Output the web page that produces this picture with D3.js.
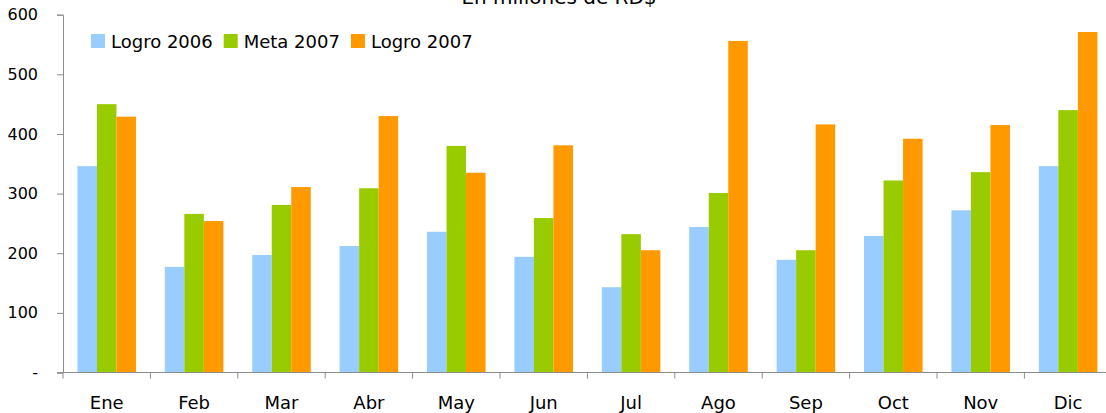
<!DOCTYPE html>
<html>
<head>
<meta charset="utf-8">
<script src="https://cdn.jsdelivr.net/npm/d3@7"></script>
<style>
  html, body { margin: 0; padding: 0; background: #fff; }
  svg { display: block; font-family: "DejaVu Sans", sans-serif; }
</style>
</head>
<body>
<svg id="chart" width="1106" height="413"></svg>
<script>
const months = ["Ene","Feb","Mar","Abr","May","Jun","Jul","Ago","Sep","Oct","Nov","Dic"];
const seriesNames = ["Logro 2006","Meta 2007","Logro 2007"];
const logro2006 = [346, 177, 197, 212, 236, 194, 143, 244, 189, 229, 272, 346];
const meta2007  = [450, 266, 281, 309, 380, 259, 232, 301, 205, 322, 336, 440];
const logro2007 = [429, 254, 311, 430, 335, 381, 205, 556, 416, 392, 415, 571];
const yTicks = [0, 100, 200, 300, 400, 500, 600];
const yTickLabels = ["-", "100", "200", "300", "400", "500", "600"];
const colors = ["#99CCFF", "#99CC00", "#FF9900"];
const title = "En millones de RD$";

const series = [logro2006, meta2007, logro2007];
const svg = d3.select("#chart");

const x0 = d3.scaleBand().domain(months).range([63, 1111.8]).paddingInner(0.33).paddingOuter(0.165);
const x1 = d3.scaleBand().domain(d3.range(series.length)).range([0, x0.bandwidth()]);
const y = d3.scaleLinear().domain([0, 600]).range([372.5, 14.7]);

// bars
const groups = svg.append("g").selectAll("g")
  .data(months).join("g")
  .attr("transform", d => `translate(${x0(d)},0)`);
groups.selectAll("rect")
  .data((m, i) => series.map((s, k) => ({k, v: s[i]})))
  .join("rect")
  .attr("x", d => x1(d.k))
  .attr("width", x1.bandwidth())
  .attr("y", d => y(d.v))
  .attr("height", d => y(0) - y(d.v))
  .attr("fill", d => colors[d.k]);

const axisColor = "#8c8c8c";

// y axis
const yAxis = svg.append("g").attr("transform", "translate(63,0)")
  .call(d3.axisLeft(y).tickValues(yTicks).tickFormat((d, i) => yTickLabels[i]).tickSizeOuter(0).tickSize(6).tickPadding(19));
yAxis.select(".domain").attr("stroke", axisColor);
yAxis.selectAll(".tick line").attr("stroke", axisColor);
yAxis.selectAll(".tick text").attr("fill", "#000").style("font-size", "16px").style("font-family", "DejaVu Sans, sans-serif");

// x axis
const xAxisG = svg.append("g").attr("transform", `translate(0,${y(0)})`);
xAxisG.append("line").attr("x1", 57).attr("x2", 1106).attr("y1", 0).attr("y2", 0).attr("stroke", axisColor);
const boundaries = months.map(m => x0(m) - x0.step() * x0.paddingOuter());
xAxisG.selectAll("line.tk").data(boundaries).join("line").attr("class", "tk")
  .attr("x1", d => d).attr("x2", d => d).attr("y1", 0).attr("y2", 6).attr("stroke", axisColor);
xAxisG.selectAll("text").data(months).join("text")
  .attr("x", d => x0(d) + x0.bandwidth() / 2)
  .attr("y", 36)
  .attr("text-anchor", "middle")
  .style("font-size", "18px")
  .attr("fill", "#000")
  .text(d => d);

// title (partially cut at top)
svg.append("text").attr("x", 559).attr("y", 3.5).attr("text-anchor", "middle")
  .style("font-size", "20px").attr("fill", "#000").text(title);

// legend
const legend = svg.append("g");
let lx = 91;
seriesNames.forEach((name, k) => {
  legend.append("rect").attr("x", lx).attr("y", 34).attr("width", 14).attr("height", 14).attr("fill", colors[k]);
  const t = legend.append("text").attr("x", lx + 20).attr("y", 47.5)
    .style("font-size", "18px").attr("fill", "#000").text(name);
  lx += 20 + t.node().getComputedTextLength() + 11;
});
</script>
</body>
</html>
